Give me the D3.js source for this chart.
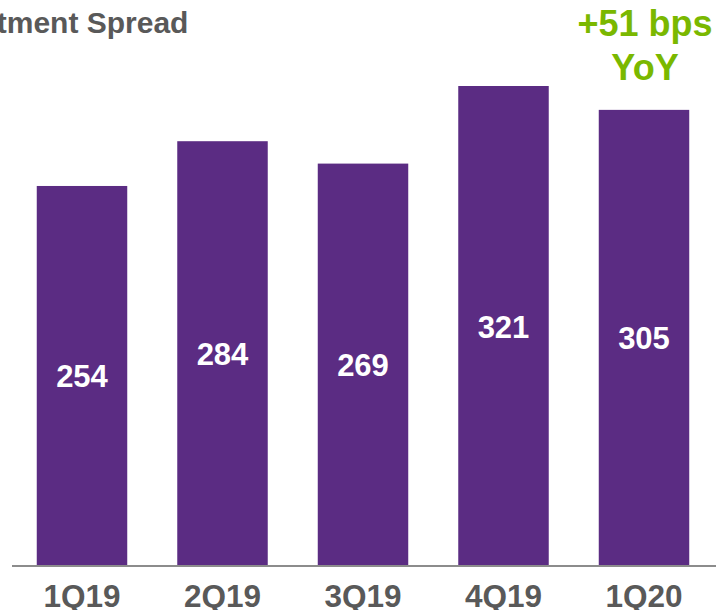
<!DOCTYPE html>
<html>
<head>
<meta charset="utf-8">
<script src="https://cdn.jsdelivr.net/npm/d3@7"></script>
<style>
  body { margin: 0; background: #fff; }
  svg { display: block; font-family: "Liberation Sans", Arial, sans-serif; }
</style>
</head>
<body>
<div id="chart"></div>
<script>
// Data
const quarters = ["1Q19", "2Q19", "3Q19", "4Q19", "1Q20"];
const spreadBps = [254, 284, 269, 321, 305];
const yoyNote = ["+51 bps", "YoY"];

const width = 716;
const height = 610;
const baseY = 565;

const svg = d3.select("#chart")
  .append("svg")
  .attr("width", width)
  .attr("height", height);

// Scales
const x = d3.scaleBand()
  .domain(quarters)
  .range([11.75, 714.25])
  .paddingInner(0.356)
  .paddingOuter(0.178);

const y = d3.scaleLinear()
  .domain([0, 321])
  .range([baseY, 86]);

// Title (clipped on the left like the slide)
svg.append("text")
  .attr("x", -80)
  .attr("y", 33)
  .attr("fill", "#595959")
  .style("font-weight", "bold")
  .style("font-size", "30px")
  .text("Investment Spread");

// Bars
svg.append("g")
  .selectAll("rect")
  .data(spreadBps)
  .join("rect")
  .attr("x", (d, i) => x(quarters[i]))
  .attr("y", d => y(d))
  .attr("width", x.bandwidth())
  .attr("height", d => baseY - y(d))
  .attr("fill", "#5B2C83");

// Value labels in the middle of each bar
svg.append("g")
  .selectAll("text")
  .data(spreadBps)
  .join("text")
  .attr("x", (d, i) => x(quarters[i]) + x.bandwidth() / 2)
  .attr("y", d => (y(d) + baseY) / 2 + 12)
  .attr("text-anchor", "middle")
  .attr("fill", "#fff")
  .style("font-weight", "bold")
  .style("font-size", "31px")
  .text(d => d);

// Baseline
svg.append("line")
  .attr("x1", 12)
  .attr("x2", width)
  .attr("y1", baseY + 1)
  .attr("y2", baseY + 1)
  .attr("stroke", "#8c8c8c")
  .attr("stroke-width", 2);

// Category labels
svg.append("g")
  .selectAll("text")
  .data(quarters)
  .join("text")
  .attr("x", d => x(d) + x.bandwidth() / 2)
  .attr("y", 607)
  .attr("text-anchor", "middle")
  .attr("fill", "#595959")
  .style("font-weight", "bold")
  .style("font-size", "31.5px")
  .text(d => d);

// YoY callout
svg.append("g")
  .selectAll("text")
  .data(yoyNote)
  .join("text")
  .attr("x", 645)
  .attr("y", (d, i) => 36 + i * 44)
  .attr("text-anchor", "middle")
  .attr("fill", "#7AB800")
  .style("font-weight", "bold")
  .style("font-size", "36px")
  .text(d => d);
</script>
</body>
</html>
